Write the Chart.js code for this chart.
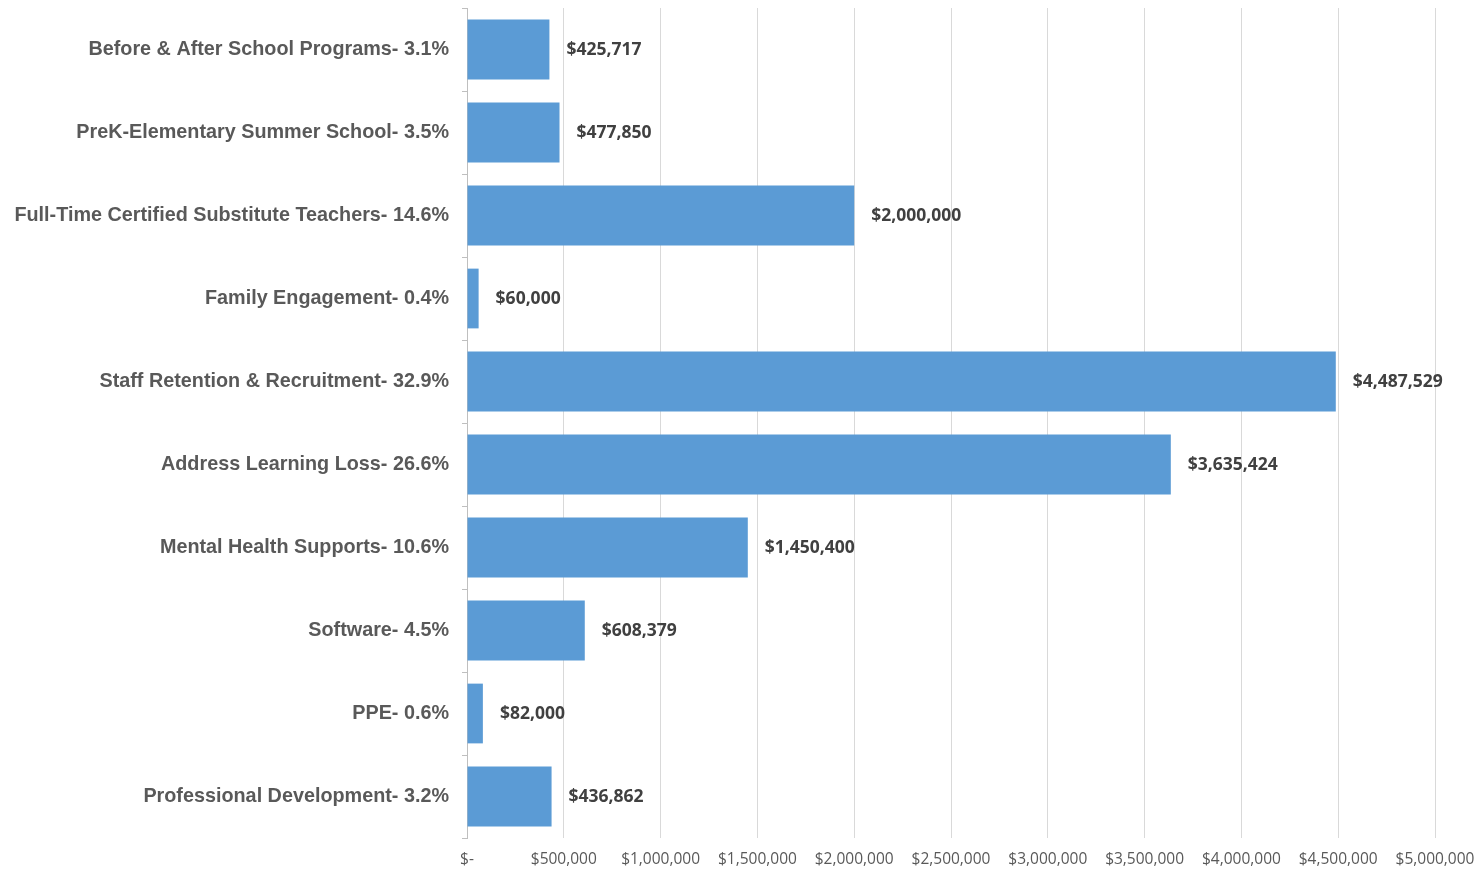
<!DOCTYPE html>
<html>
<head>
<meta charset="utf-8">
<script src="https://cdn.jsdelivr.net/npm/chart.js@4/dist/chart.umd.min.js"></script>
<style>
  body { margin: 0; background: #fff; }
  #wrap { width: 1480px; height: 872px; }
</style>
</head>
<body>
<div id="wrap"><canvas id="chart" width="1480" height="872"></canvas></div>
<script>
const categories = [
  "Before & After School Programs- 3.1%",
  "PreK-Elementary Summer School- 3.5%",
  "Full-Time Certified Substitute Teachers- 14.6%",
  "Family Engagement- 0.4%",
  "Staff Retention & Recruitment- 32.9%",
  "Address Learning Loss- 26.6%",
  "Mental Health Supports- 10.6%",
  "Software- 4.5%",
  "PPE- 0.6%",
  "Professional Development- 3.2%"
];
const amounts = [425717, 477850, 2000000, 60000, 4487529, 3635424, 1450400, 608379, 82000, 436862];
const axisMax = 5000000;
const axisStep = 500000;

function money(v) {
  return "$" + v.toLocaleString("en-US");
}

// value labels drawn right of each bar end
const barLabels = {
  id: "barLabels",
  afterDatasetsDraw(chart) {
    const ctx = chart.ctx;
    const meta = chart.getDatasetMeta(0);
    ctx.save();
    ctx.font = "bold 17.5px 'Open Sans'";
    ctx.fillStyle = "#404040";
    ctx.textAlign = "left";
    ctx.textBaseline = "middle";
    meta.data.forEach((bar, i) => {
      ctx.fillText(money(amounts[i]), bar.x + 17, bar.y + 1);
    });
    ctx.restore();
  }
};

new Chart(document.getElementById("chart"), {
  type: "bar",
  data: {
    labels: categories,
    datasets: [{
      label: "Amount",
      data: amounts,
      backgroundColor: "#5b9bd5",
      borderWidth: 0,
      barPercentage: 0.72,
      categoryPercentage: 1.0
    }]
  },
  options: {
    indexAxis: "y",
    responsive: false,
    animation: false,
    layout: { padding: { top: 8, right: 45, left: 0, bottom: 0 } },
    plugins: {
      legend: { display: false },
      tooltip: { enabled: false }
    },
    scales: {
      x: {
        min: 0,
        max: axisMax,
        afterFit(scale) {
          scale.height = 34;
          scale.paddingLeft = 0;
          scale.paddingRight = 0;
        },
        ticks: {
          stepSize: axisStep,
          padding: 12,
          color: "#595959",
          font: { family: "'Open Sans'", size: 15.5 },
          callback: (v) => v === 0 ? "$-" : money(v)
        },
        grid: { color: "#d9d9d9", drawTicks: false },
        border: { display: false }
      },
      y: {
        afterFit(scale) {
          scale.width = 467;
          scale.paddingTop = 0;
          scale.paddingBottom = 0;
        },
        ticks: {
          padding: 13,
          color: "#595959",
          font: { family: "'Liberation Sans'", size: 19.8, weight: "bold" }
        },
        grid: { drawOnChartArea: false, tickLength: 5, tickColor: "#bfbfbf" },
        border: { color: "#bfbfbf", width: 1 }
      }
    }
  },
  plugins: [barLabels]
});
</script>
</body>
</html>
